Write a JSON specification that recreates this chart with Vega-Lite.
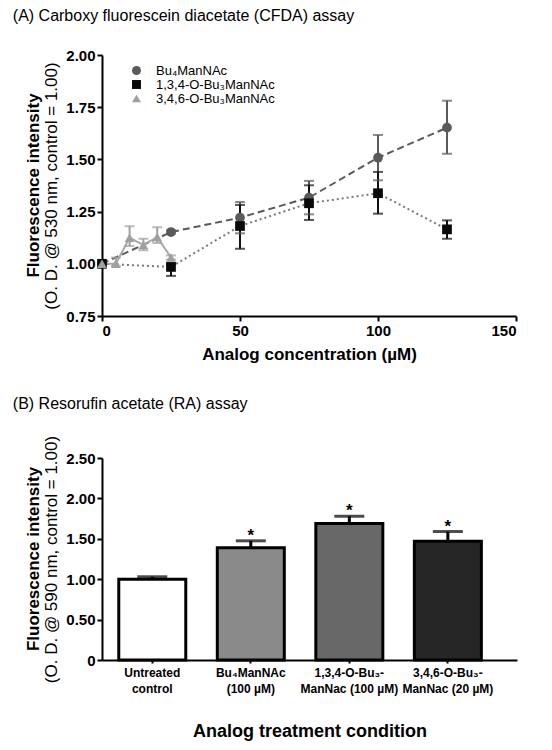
{
  "$schema": "https://vega.github.io/schema/vega-lite/v6.json",
  "padding": {"left": 12, "top": 8, "right": 5, "bottom": 5},
  "config": {
    "font": "Liberation Sans",
    "view": {"stroke": null},
    "axis": {
      "domainColor": "black", "domainWidth": 2, "tickColor": "black", "tickWidth": 2, "tickSize": 5,
      "labelColor": "black", "labelFont": "Liberation Sans", "labelFontWeight": "bold", "labelFontSize": 15,
      "titleColor": "black", "titleFont": "Liberation Sans", "grid": false
    },
    "title": {"anchor": "start", "fontSize": 16, "fontWeight": "normal", "color": "black", "font": "Liberation Sans"}
  },
  "datasets": {
    "curves": [
      {"series": "Bu₄ManNAc", "conc": 0, "mean": 1.0, "lo": 1.0, "hi": 1.0},
      {"series": "Bu₄ManNAc", "conc": 25, "mean": 1.152, "lo": 1.145, "hi": 1.16},
      {"series": "Bu₄ManNAc", "conc": 50, "mean": 1.221, "lo": 1.146, "hi": 1.296},
      {"series": "Bu₄ManNAc", "conc": 75, "mean": 1.317, "lo": 1.237, "hi": 1.397},
      {"series": "Bu₄ManNAc", "conc": 100, "mean": 1.508, "lo": 1.4, "hi": 1.617},
      {"series": "Bu₄ManNAc", "conc": 125, "mean": 1.652, "lo": 1.527, "hi": 1.781},
      {"series": "1,3,4-O-Bu₃ManNAc", "conc": 0, "mean": 1.0, "lo": 1.0, "hi": 1.0},
      {"series": "1,3,4-O-Bu₃ManNAc", "conc": 25, "mean": 0.985, "lo": 0.942, "hi": 1.0},
      {"series": "1,3,4-O-Bu₃ManNAc", "conc": 50, "mean": 1.181, "lo": 1.072, "hi": 1.282},
      {"series": "1,3,4-O-Bu₃ManNAc", "conc": 75, "mean": 1.29, "lo": 1.21, "hi": 1.376},
      {"series": "1,3,4-O-Bu₃ManNAc", "conc": 100, "mean": 1.338, "lo": 1.24, "hi": 1.44},
      {"series": "1,3,4-O-Bu₃ManNAc", "conc": 125, "mean": 1.165, "lo": 1.12, "hi": 1.208},
      {"series": "3,4,6-O-Bu₃ManNAc", "conc": 0, "mean": 1.0, "lo": 1.0, "hi": 1.0},
      {"series": "3,4,6-O-Bu₃ManNAc", "conc": 5, "mean": 1.0, "lo": 0.99, "hi": 1.03},
      {"series": "3,4,6-O-Bu₃ManNAc", "conc": 10, "mean": 1.125, "lo": 1.085, "hi": 1.18},
      {"series": "3,4,6-O-Bu₃ManNAc", "conc": 15, "mean": 1.09, "lo": 1.065, "hi": 1.12},
      {"series": "3,4,6-O-Bu₃ManNAc", "conc": 20, "mean": 1.128, "lo": 1.1, "hi": 1.175},
      {"series": "3,4,6-O-Bu₃ManNAc", "conc": 25, "mean": 1.03, "lo": 1.02, "hi": 1.04}
    ],
    "bars": [
      {"cond": "Untreated|control", "val": 1.0, "hi": 1.03, "star": ""},
      {"cond": "Bu₄ManNAc|(100 µM)", "val": 1.39, "hi": 1.475, "star": "*"},
      {"cond": "1,3,4-O-Bu₃-|ManNac (100 µM)", "val": 1.69, "hi": 1.78, "star": "*"},
      {"cond": "3,4,6-O-Bu₃-|ManNac (20 µM)", "val": 1.47, "hi": 1.59, "star": "*"}
    ]
  },
  "resolve": {
    "scale": {"fill": "independent", "color": "independent", "stroke": "independent", "shape": "independent", "strokeDash": "independent"},
    "legend": {"fill": "independent", "shape": "independent", "color": "independent", "stroke": "independent", "strokeDash": "independent"}
  },
  "spacing": 34,
  "vconcat": [
    {
      "title": {"text": "(A) Carboxy fluorescein diacetate (CFDA) assay", "anchor": "start", "offset": 24, "dx": -12},
      "resolve": {"legend": {"fill": "independent", "shape": "independent"}},
      "vconcat": [
        {
          "title": {"text": "Fluorescence intensity", "orient": "left", "anchor": "middle", "fontWeight": "bold", "fontSize": 17, "offset": 0},
          "width": 414,
          "height": 261,
          "data": {"name": "curves"},
          "encoding": {
            "x": {"field": "conc", "type": "quantitative",
                  "scale": {"domain": [0, 150], "nice": false},
                  "axis": {"values": [0, 50, 100, 150], "title": "Analog concentration (µM)", "titleFontSize": 17, "titleFontWeight": "bold", "titlePadding": 8}}
          },
          "layer": [
            {
              "mark": {"type": "line", "strokeWidth": 2},
              "encoding": {
                "y": {"field": "mean", "type": "quantitative",
                      "scale": {"domain": [0.75, 2.0], "nice": false, "zero": false},
                      "axis": {"values": [0.75, 1.0, 1.25, 1.5, 1.75, 2.0], "format": ".2f", "title": "(O. D. @ 530 nm, control = 1.00)", "titleFontSize": 17, "titleFontWeight": "normal", "titlePadding": 5}},
                "stroke": {"field": "series", "type": "nominal", "legend": null,
                           "scale": {"domain": ["Bu₄ManNAc", "1,3,4-O-Bu₃ManNAc", "3,4,6-O-Bu₃ManNAc"], "range": ["#5a5a5a", "#7a7a7a", "#a8a8a8"]}},
                "strokeDash": {"field": "series", "type": "nominal", "legend": null,
                           "scale": {"domain": ["Bu₄ManNAc", "1,3,4-O-Bu₃ManNAc", "3,4,6-O-Bu₃ManNAc"], "range": [[7, 4], [2, 3], [1, 0]]}}
              }
            },
            {
              "mark": {"type": "rule", "strokeWidth": 2},
              "encoding": {
                "y": {"field": "lo", "type": "quantitative"},
                "y2": {"field": "hi"},
                "color": {"field": "series", "type": "nominal", "legend": null,
                          "scale": {"domain": ["Bu₄ManNAc", "1,3,4-O-Bu₃ManNAc", "3,4,6-O-Bu₃ManNAc"], "range": ["#5a5a5a", "#111111", "#a0a0a0"]}}
              }
            },
            {
              "mark": {"type": "tick", "orient": "horizontal", "size": 10, "thickness": 2},
              "encoding": {
                "y": {"field": "hi", "type": "quantitative"},
                "color": {"field": "series", "type": "nominal", "legend": null}
              }
            },
            {
              "mark": {"type": "tick", "orient": "horizontal", "size": 10, "thickness": 2},
              "encoding": {
                "y": {"field": "lo", "type": "quantitative"},
                "color": {"field": "series", "type": "nominal", "legend": null}
              }
            },
            {
              "mark": {"type": "point", "filled": true, "size": 95, "opacity": 1},
              "encoding": {
                "y": {"field": "mean", "type": "quantitative"},
                "fill": {"field": "series", "type": "nominal",
                         "scale": {"domain": ["Bu₄ManNAc", "1,3,4-O-Bu₃ManNAc", "3,4,6-O-Bu₃ManNAc"], "range": ["#5a5a5a", "#0a0a0a", "#a0a0a0"]},
                         "legend": {"title": null, "orient": "none", "legendX": 28, "legendY": 9, "labelFontSize": 13, "labelFont": "Liberation Sans", "labelColor": "black", "symbolSize": 80, "rowPadding": -5, "labelOffset": 13}},
                "shape": {"field": "series", "type": "nominal",
                          "scale": {"domain": ["Bu₄ManNAc", "1,3,4-O-Bu₃ManNAc", "3,4,6-O-Bu₃ManNAc"], "range": ["circle", "square", "triangle-up"]},
                          "legend": {"title": null, "orient": "none", "legendX": 28, "legendY": 9, "labelFontSize": 13, "labelFont": "Liberation Sans", "labelColor": "black", "symbolSize": 80, "rowPadding": -5, "labelOffset": 13}}
              }
            }
          ]
        }
      ]
    },
    {
      "title": {"text": "(B) Resorufin acetate (RA) assay", "anchor": "start", "offset": 23, "dx": -12},
      "vconcat": [
        {
          "title": {"text": "Fluorescence intensity", "orient": "left", "anchor": "middle", "fontWeight": "bold", "fontSize": 17, "offset": 0},
          "width": 415,
          "height": 202,
          "data": {"name": "bars"},
          "encoding": {
            "x": {"field": "cond", "type": "nominal", "sort": null,
                  "scale": {"paddingInner": 0.32, "paddingOuter": 0.266, "align": 0.32},
                  "axis": {"labelAngle": 0, "labelExpr": "split(datum.label, '|')", "labelFontSize": 12, "labelLineHeight": 16, "labelPadding": 4, "tickSize": 3,
                           "title": "Analog treatment condition", "titleFontSize": 18, "titleFontWeight": "bold", "titlePadding": 28}}
          },
          "layer": [
            {
              "mark": {"type": "rule", "strokeWidth": 3, "color": "black"},
              "encoding": {
                "y": {"field": "val", "type": "quantitative"},
                "y2": {"field": "hi"}
              }
            },
            {
              "mark": {"type": "tick", "size": 30, "thickness": 3, "color": "black"},
              "encoding": {"y": {"field": "hi", "type": "quantitative"}}
            },
            {
              "mark": {"type": "bar", "stroke": "black", "strokeWidth": 3},
              "encoding": {
                "y": {"field": "val", "type": "quantitative",
                      "scale": {"domain": [0, 2.5], "nice": false},
                      "axis": {"values": [0, 0.5, 1.0, 1.5, 2.0, 2.5], "labelExpr": "datum.value == 0 ? '0' : format(datum.value, '.2f')", "title": "(O. D. @ 590 nm, control = 1.00)", "titleFontSize": 17, "titleFontWeight": "normal", "titlePadding": 5}},
                "fill": {"field": "cond", "type": "nominal", "legend": null,
                         "scale": {"domain": ["Untreated|control", "Bu₄ManNAc|(100 µM)", "1,3,4-O-Bu₃-|ManNac (100 µM)", "3,4,6-O-Bu₃-|ManNac (20 µM)"], "range": ["#ffffff", "#8a8a8a", "#686868", "#262626"]}}
              }
            },
            {
              "mark": {"type": "text", "fontSize": 17, "fontWeight": "bold", "baseline": "alphabetic", "dy": 0, "color": "black"},
              "encoding": {
                "y": {"field": "hi", "type": "quantitative"},
                "text": {"field": "star"}
              }
            }
          ]
        }
      ]
    }
  ]
}
